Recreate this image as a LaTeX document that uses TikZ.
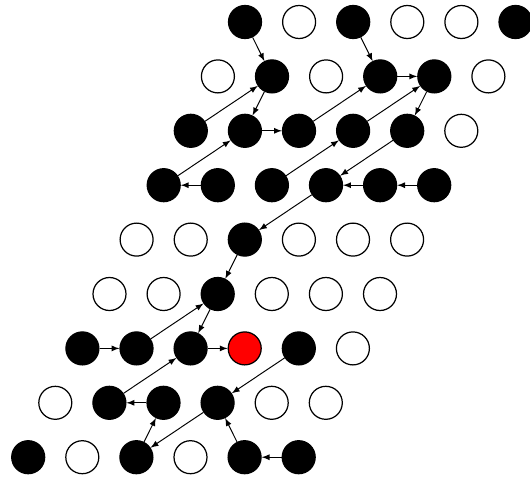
\documentclass[tikz,border=0pt]{standalone}
\usetikzlibrary{arrows}

\tikzset{
  site/.style={circle,draw=black,line width=0.7pt,minimum size=0.66cm,inner sep=0pt},
  occ/.style={site,fill=black},
  emp/.style={site,fill=white},
  hot/.style={site,fill=red},
  hop/.style={-latex,line width=0.55pt}
}

\begin{document}
\begin{tikzpicture}[x=0.02cm,y=-0.02cm]
  \useasboundingbox (0,0) rectangle (530,477);

  % lattice sites, row by row from the top
  \foreach \r/\row in {1/{occ,emp,occ,emp,emp,occ},
                       2/{emp,occ,emp,occ,occ,emp},
                       3/{occ,occ,occ,occ,occ,emp},
                       4/{occ,occ,occ,occ,occ,occ},
                       5/{emp,emp,occ,emp,emp,emp},
                       6/{emp,emp,occ,emp,emp,emp},
                       7/{occ,occ,occ,hot,occ,emp},
                       8/{emp,occ,occ,occ,emp,emp},
                       9/{occ,emp,occ,emp,occ,occ}}
    \foreach \kind [count=\c] in \row
      \node[\kind] (s\r\c) at ({245-27.1*(\r-1)+54.1*(\c-1)},{22+54.4*(\r-1)}) {};

  % hops
  \draw[hop] (s11) -- (s22);
  \draw[hop] (s13) -- (s24);
  \draw[hop] (s24) -- (s25);
  \draw[hop] (s22) -- (s32);
  \draw[hop] (s31) -- (s22);
  \draw[hop] (s32) -- (s33);
  \draw[hop] (s33) -- (s24);
  \draw[hop] (s34) -- (s25);
  \draw[hop] (s25) -- (s35);
  \draw[hop] (s41) -- (s32);
  \draw[hop] (s42) -- (s41);
  \draw[hop] (s43) -- (s34);
  \draw[hop] (s35) -- (s44);
  \draw[hop] (s45) -- (s44);
  \draw[hop] (s46) -- (s45);
  \draw[hop] (s44) -- (s53);
  \draw[hop] (s53) -- (s63);
  \draw[hop] (s72) -- (s63);
  \draw[hop] (s63) -- (s73);
  \draw[hop] (s71) -- (s72);
  \draw[hop] (s73) -- (s74);
  \draw[hop] (s82) -- (s73);
  \draw[hop] (s75) -- (s84);
  \draw[hop] (s83) -- (s82);
  \draw[hop] (s93) -- (s83);
  \draw[hop] (s84) -- (s93);
  \draw[hop] (s95) -- (s84);
  \draw[hop] (s96) -- (s95);
\end{tikzpicture}
\end{document}
